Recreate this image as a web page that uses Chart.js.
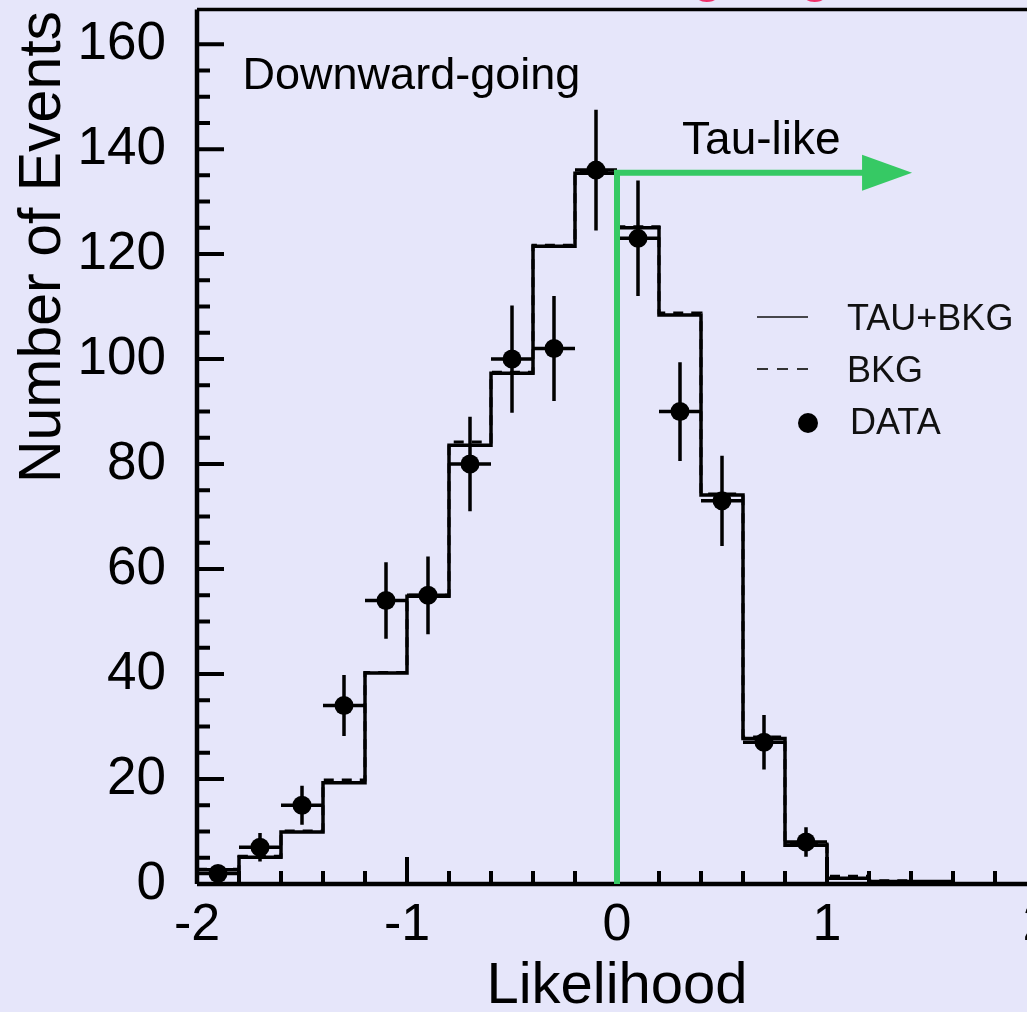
<!DOCTYPE html>
<html>
<head>
<meta charset="utf-8">
<script src="https://cdn.jsdelivr.net/npm/chart.js@4/dist/chart.umd.min.js"></script>
<style>
  html, body { margin: 0; padding: 0; background: #e6e6fa; overflow: hidden; width: 1027px; height: 1012px; }
  #wrap { position: relative; width: 1100px; height: 1012px; }
  canvas { display: block; }
</style>
</head>
<body>
<div id="wrap"><canvas id="c" width="1100" height="1012"></canvas></div>
<script>
// Likelihood bins (width 0.2) from -2 to 2
const binEdges = [-2.0, -1.8, -1.6, -1.4, -1.2, -1.0, -0.8, -0.6, -0.4, -0.2, 0.0,
                  0.2, 0.4, 0.6, 0.8, 1.0, 1.2, 1.4, 1.6, 1.8, 2.0];

// Expected events: tau signal plus background
const tauPlusBkg = [2.7, 5.1, 9.9, 19.3, 40.2, 54.8, 83.6, 97.3, 121.5, 135.4,
                    125.0, 108.4, 74.1, 27.7, 7.4, 1.1, 0.5, 0.5, 0, 0];
// Expected events: background only
const bkgOnly = [2.8, 5.3, 10.1, 19.8, 40.3, 55.0, 84.2, 97.5, 121.7, 135.6,
                 125.2, 108.8, 74.3, 28.0, 7.6, 1.5, 0.6, 0.5, 0, 0];

// Observed events at bin centres, with statistical errors
const dataX = [-1.9, -1.7, -1.5, -1.3, -1.1, -0.9, -0.7, -0.5, -0.3, -0.1, 0.1, 0.3, 0.5, 0.7, 0.9];
const dataY = [2, 7, 15, 34, 54, 55, 80, 100, 102, 136, 123, 90, 73, 27, 8];
const dataErr = [1.4, 2.7, 3.7, 5.8, 7.3, 7.4, 9.0, 10.2, 10.0, 11.5, 11.0, 9.4, 8.6, 5.2, 2.8];

// Axis ticks
const xTicks = [-2, -1, 0, 1, 2];
const yTicks = [0, 20, 40, 60, 80, 100, 120, 140, 160];

// Tau-like selection: cut value and arrow
const tauCut = 0;
const arrowLevel = 135.5;
const arrowShaftEnd = 1.167;
const arrowTip = 1.405;

const FONT = '"Liberation Sans", Arial, Helvetica, sans-serif';
const GREEN = '#36c964';

function histPoints(values) {
  const pts = values.map((v, i) => ({ x: binEdges[i], y: v }));
  pts.push({ x: binEdges[binEdges.length - 1], y: values[values.length - 1] });
  return pts;
}

// Frame and inward tick marks on the left and bottom axes
const frameAndTicks = {
  id: 'frameAndTicks',
  afterDatasetsDraw(chart) {
    const { ctx, chartArea: a, scales: { x, y } } = chart;
    ctx.save();
    ctx.strokeStyle = '#000';
    ctx.lineWidth = 4;
    ctx.lineCap = 'butt';
    ctx.beginPath();
    for (let k = 0; k <= 32; k++) {
      const v = k * 5;
      const len = v % 20 === 0 ? 27 : 13;
      const py = y.getPixelForValue(v);
      ctx.moveTo(a.left, py); ctx.lineTo(a.left + len, py);
    }
    for (let k = 0; k <= 20; k++) {
      const v = -2 + k * 0.2;
      const len = k % 5 === 0 ? 27 : 13;
      const px = x.getPixelForValue(v);
      ctx.moveTo(px, a.bottom); ctx.lineTo(px, a.bottom - len);
    }
    ctx.stroke();
    ctx.lineWidth = 4.5;
    ctx.beginPath();
    ctx.moveTo(a.left, a.bottom); ctx.lineTo(a.left, a.top);
    ctx.moveTo(a.left, a.bottom); ctx.lineTo(a.right, a.bottom);
    ctx.stroke();
    ctx.lineWidth = 3.5;
    ctx.beginPath();
    ctx.moveTo(a.left, a.top); ctx.lineTo(a.right, a.top); ctx.lineTo(a.right, a.bottom);
    ctx.stroke();
    ctx.restore();
  }
};

// Error bars for the data points
const errorBars = {
  id: 'errorBars',
  beforeDatasetDraw(chart, args) {
    if (args.index !== 0) return;
    const { ctx, scales: { x, y } } = chart;
    ctx.save();
    ctx.strokeStyle = '#000';
    ctx.lineWidth = 3.5;
    ctx.beginPath();
    dataX.forEach((xv, i) => {
      const px = x.getPixelForValue(xv);
      const py = y.getPixelForValue(dataY[i]);
      const top = y.getPixelForValue(dataY[i] + dataErr[i]);
      const bot = y.getPixelForValue(Math.max(0, dataY[i] - dataErr[i]));
      ctx.moveTo(px, top); ctx.lineTo(px, bot);
      ctx.moveTo(x.getPixelForValue(xv - 0.1), py); ctx.lineTo(x.getPixelForValue(xv + 0.1), py);
    });
    ctx.stroke();
    ctx.restore();
  }
};

// Cut line, arrow, labels, legend and axis titles
const annotations = {
  id: 'annotations',
  afterDraw(chart) {
    const { ctx, scales: { x, y } } = chart;
    ctx.save();

    // Tau-like selection arrow
    const x0 = x.getPixelForValue(tauCut);
    const y0 = y.getPixelForValue(0);
    const yl = y.getPixelForValue(arrowLevel);
    const xe = x.getPixelForValue(arrowShaftEnd);
    const xt = x.getPixelForValue(arrowTip);
    ctx.strokeStyle = GREEN;
    ctx.fillStyle = GREEN;
    ctx.lineWidth = 6;
    ctx.lineJoin = 'miter';
    ctx.beginPath();
    ctx.moveTo(x0, y0);
    ctx.lineTo(x0, yl);
    ctx.lineTo(xe + 2, yl);
    ctx.stroke();
    ctx.beginPath();
    ctx.moveTo(xe, yl - 18);
    ctx.lineTo(xt, yl);
    ctx.lineTo(xe, yl + 18);
    ctx.closePath();
    ctx.fill();

    ctx.fillStyle = '#000';
    ctx.textBaseline = 'alphabetic';
    ctx.textAlign = 'left';
    ctx.font = '45px ' + FONT;
    ctx.fillText('Downward-going', x.getPixelForValue(-1.783), y.getPixelForValue(151.5));
    ctx.font = '46px ' + FONT;
    ctx.fillText('Tau-like', x.getPixelForValue(0.31), y.getPixelForValue(139.1));

    // Title above the frame
    ctx.fillStyle = '#f0306a';
    ctx.textAlign = 'center';
    ctx.font = '57px ' + FONT;
    ctx.fillText('Downward-going', x.getPixelForValue(0), -10);

    // Legend
    ctx.fillStyle = '#111';
    ctx.textAlign = 'left';
    ctx.font = '36px ' + FONT;
    ctx.strokeStyle = '#111';
    ctx.lineWidth = 1.6;
    ctx.beginPath(); ctx.moveTo(757, 317); ctx.lineTo(808, 317); ctx.stroke();
    ctx.fillText('TAU+BKG', 847, 330);
    ctx.setLineDash([11, 9]);
    ctx.strokeStyle = '#333';
    ctx.lineWidth = 1.8;
    ctx.beginPath(); ctx.moveTo(757, 369); ctx.lineTo(808, 369); ctx.stroke();
    ctx.setLineDash([]);
    ctx.fillText('BKG', 847, 382);
    ctx.fillStyle = '#000';
    ctx.beginPath(); ctx.arc(808, 423, 10, 0, Math.PI * 2); ctx.fill();
    ctx.fillStyle = '#111';
    ctx.fillText('DATA', 850, 434);

    // Axis titles
    ctx.fillStyle = '#000';
    ctx.textAlign = 'center';
    ctx.font = '58px ' + FONT;
    ctx.fillText('Likelihood', x.getPixelForValue(0), 1003);
    ctx.save();
    ctx.translate(60, 247);
    ctx.rotate(-Math.PI / 2);
    ctx.font = '59px ' + FONT;
    ctx.fillText('Number of Events', 0, 0);
    ctx.restore();

    ctx.restore();
  }
};

new Chart(document.getElementById('c'), {
  type: 'scatter',
  data: {
    datasets: [
      {
        label: 'DATA',
        data: dataX.map((xv, i) => ({ x: xv, y: dataY[i] })),
        pointRadius: 9.5,
        pointBackgroundColor: '#000',
        pointBorderWidth: 0,
        showLine: false
      },
      {
        label: 'TAU+BKG',
        type: 'line',
        data: histPoints(tauPlusBkg),
        stepped: true,
        borderColor: '#000',
        borderWidth: 3.5,
        pointRadius: 0,
        fill: false
      },
      {
        label: 'BKG',
        type: 'line',
        data: histPoints(bkgOnly),
        stepped: true,
        borderColor: '#000',
        borderWidth: 3,
        borderDash: [10, 8],
        pointRadius: 0,
        fill: false
      }
    ]
  },
  options: {
    responsive: false,
    animation: false,
    devicePixelRatio: 1,
    layout: { padding: { left: 0, right: 63, top: 5, bottom: 0 } },
    plugins: { legend: { display: false }, tooltip: { enabled: false } },
    scales: {
      x: {
        type: 'linear',
        min: -2,
        max: 2,
        afterBuildTicks(s) { s.ticks = xTicks.map(v => ({ value: v })); },
        grid: { display: false },
        border: { display: false },
        ticks: {
          color: '#000',
          font: { family: FONT, size: 52, lineHeight: 1.2 },
          padding: 2,
          maxRotation: 0,
          autoSkip: false,
          callback: v => String(v)
        },
        afterFit(s) { s.height = 128; s.paddingLeft = 0; s.paddingRight = 0; }
      },
      y: {
        type: 'linear',
        min: 0,
        max: 166.6,
        afterBuildTicks(s) { s.ticks = yTicks.map(v => ({ value: v })); },
        grid: { display: false },
        border: { display: false },
        ticks: {
          color: '#000',
          font: { family: FONT, size: 53 },
          padding: 23,
          autoSkip: false,
          callback: v => String(v)
        },
        afterFit(s) { s.width = 197; s.paddingTop = 0; s.paddingBottom = 0; }
      }
    }
  },
  plugins: [errorBars, frameAndTicks, annotations]
});
</script>
</body>
</html>
